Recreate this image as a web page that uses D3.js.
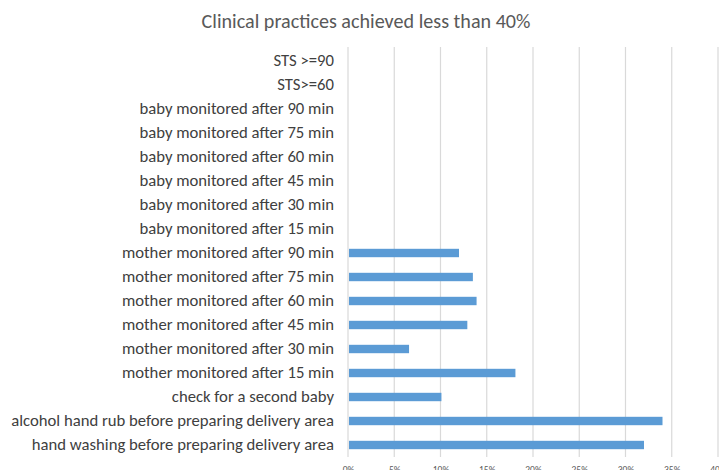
<!DOCTYPE html>
<html><head><meta charset="utf-8">
<script src="https://cdn.jsdelivr.net/npm/d3@7"></script>
<style>body{margin:0;background:#fff;overflow:hidden}</style>
</head><body>
<svg id="c" width="719" height="470"></svg>
<script>
const title = "Clinical practices achieved less than 40%";
const categories = [
  "STS >=90",
  "STS>=60",
  "baby monitored after 90 min",
  "baby monitored after 75 min",
  "baby monitored after 60 min",
  "baby monitored after 45 min",
  "baby monitored after 30 min",
  "baby monitored after 15 min",
  "mother monitored after 90 min",
  "mother monitored after 75 min",
  "mother monitored after 60 min",
  "mother monitored after 45 min",
  "mother monitored after 30 min",
  "mother monitored after 15 min",
  "check for a second baby",
  "alcohol hand rub before preparing delivery area",
  "hand washing before preparing delivery area"
];
const values = [0, 0, 0, 0, 0, 0, 0, 0, 12.0, 13.5, 13.9, 12.9, 6.6, 18.1, 10.1, 34.0, 32.0];
const tickValues = [0, 5, 10, 15, 20, 25, 30, 35, 40];

(function(){
const svg = d3.select("#c");
const font = "Carlito, Calibri, 'Open Sans', 'Liberation Sans', sans-serif";
const mL = 348, mR = 718, mT = 49, mB = 457;

const x = d3.scaleLinear().domain([0, 40]).range([mL, mR]);
const y = d3.scaleBand().domain(categories).range([mT, mB]).paddingInner(0.65).paddingOuter(0.325);

const t = svg.append("text").attr("x", 366).attr("y", 28).attr("text-anchor", "middle")
  .attr("font-family", font).attr("font-size", 19).attr("fill", "#595959").text(title);
const tw = t.node().getComputedTextLength();
t.attr("font-size", 19 * 329 / tw);

const grid = svg.append("g");
grid.selectAll("line").data(tickValues).join("line")
  .attr("x1", d => x(d)).attr("x2", d => x(d))
  .attr("y1", 47).attr("y2", mB)
  .attr("stroke", "#d9d9d9").attr("stroke-width", 1.2);

svg.append("g").selectAll("rect").data(categories.map((c, i) => ({c, v: values[i]})).filter(d => d.v > 0)).join("rect")
  .attr("x", x(0) + 1).attr("y", d => y(d.c))
  .attr("width", d => x(d.v) - x(0) - 1).attr("height", y.bandwidth())
  .attr("fill", "#5b9bd5");

const yAxis = svg.append("g").attr("transform", `translate(${mL},0)`)
  .call(d3.axisLeft(y).tickSize(0).tickPadding(14));
yAxis.select(".domain").remove();
yAxis.selectAll("text").attr("font-family", font).attr("font-size", 14).attr("fill", "#404040");
let maxW = 0;
yAxis.selectAll("text").each(function(){ maxW = Math.max(maxW, this.getComputedTextLength()); });
yAxis.selectAll("text").attr("font-size", 14 * 323 / maxW);

const xAxis = svg.append("g").attr("transform", `translate(0,${mB})`)
  .call(d3.axisBottom(x).tickValues(tickValues).tickFormat(d => d + "%").tickSize(0).tickPadding(9));
xAxis.select(".domain").remove();
xAxis.selectAll("text").attr("font-family", font).attr("font-size", 9.5).attr("fill", "#595959");
})();
</script>
</body></html>
